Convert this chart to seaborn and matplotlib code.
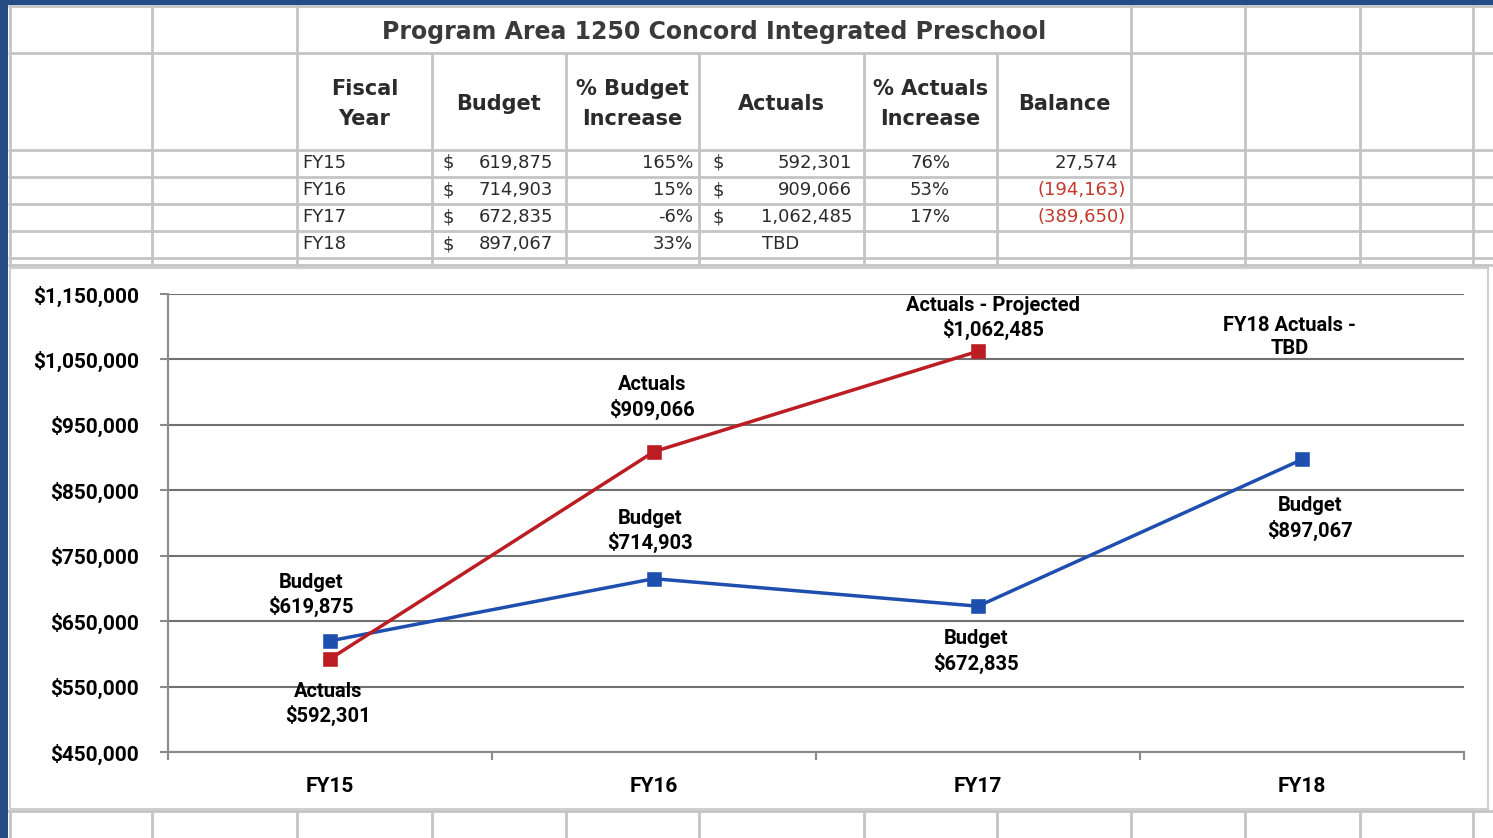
import matplotlib
matplotlib.use("Agg")
import matplotlib.pyplot as plt
import matplotlib.patches as mpatches
import numpy as np
import pandas as pd
import seaborn as sns

# ---------------- data ----------------
title = "Program Area 1250 Concord Integrated Preschool"
headers = ["Fiscal\nYear", "Budget", "% Budget\nIncrease", "Actuals", "% Actuals\nIncrease", "Balance"]
years = ["FY15", "FY16", "FY17", "FY18"]
budget = [619875, 714903, 672835, 897067]
budget_pct = ["165%", "15%", "-6%", "33%"]
actuals = [592301, 909066, 1062485, np.nan]
actuals_pct = ["76%", "53%", "17%", ""]
balance = [27574, -194163, -389650, np.nan]
budget_labels = ["Budget", "Budget", "Budget", "Budget"]
actual_labels = ["Actuals", "Actuals", "Actuals - Projected", None]
tbd_label = "FY18 Actuals -\nTBD"
y_ticks = [450000, 550000, 650000, 750000, 850000, 950000, 1050000, 1150000]

# ---------------- figure ----------------
sns.set_theme(style="white")
W, H = 1493, 838
fig = plt.figure(figsize=(W / 100, H / 100), dpi=100, facecolor="white")

bg = fig.add_axes([0, 0, 1, 1])
bg.set_xlim(0, W)
bg.set_ylim(H, 0)
bg.axis("off")

gcol = "#c4c4c4"
glw = 2.0
cols = [10, 152, 297, 432, 566, 699, 864, 997, 1131, 1245, 1360, 1473]
# spreadsheet rows
for y in [6, 53, 150, 177, 204, 231, 258, 265]:
    bg.plot([8, W], [y, y], color=gcol, lw=glw, solid_capstyle="butt")
# vertical lines, title row (merged title cell)
for x in cols:
    if x in (432, 566, 699, 864, 997):
        bg.plot([x, x], [53, 265], color=gcol, lw=glw)
    else:
        bg.plot([x, x], [5, 268], color=gcol, lw=glw)
# bottom row below chart
bg.plot([8, W], [811, 811], color=gcol, lw=glw)
for x in cols:
    bg.plot([x, x], [811, H], color=gcol, lw=glw)

# chart object frame
bg.add_patch(mpatches.Rectangle((10, 268), 1478, 541, facecolor="white",
                                edgecolor="#cfcfcf", lw=1.5, zorder=3))

# blue window frame
blue = "#264c85"
bg.add_patch(mpatches.Rectangle((0, 0), W, 5, facecolor=blue, edgecolor="none", zorder=5))
bg.add_patch(mpatches.Rectangle((0, 0), 8, H, facecolor=blue, edgecolor="none", zorder=5))

# ---------------- table text ----------------
tfont = "DejaVu Sans"
txtc = "#2b2b2b"
bg.text((297 + 1131) / 2, 32, title, ha="center", va="center", fontsize=17,
        fontweight="bold", family=tfont, color="#3a3a3a")
for i, htxt in enumerate(headers):
    cx = (cols[2 + i] + cols[3 + i]) / 2
    bg.text(cx, 104, htxt, ha="center", va="center", fontsize=15, fontweight="bold",
            family=tfont, color=txtc, linespacing=1.65)

row_y = [163, 190, 217, 244]
fs = 13
for i, yv in enumerate(row_y):
    bg.text(302, yv, years[i], ha="left", va="center", fontsize=fs, family=tfont, color=txtc)
    bg.text(442, yv, "$", ha="left", va="center", fontsize=fs, family=tfont, color=txtc)
    bg.text(553, yv, f"{budget[i]:,}", ha="right", va="center", fontsize=fs, family=tfont, color=txtc)
    bg.text(693, yv, budget_pct[i], ha="right", va="center", fontsize=fs, family=tfont, color=txtc)
    if np.isnan(actuals[i]):
        bg.text(781, yv, "TBD", ha="center", va="center", fontsize=fs, family=tfont, color=txtc)
    else:
        bg.text(712, yv, "$", ha="left", va="center", fontsize=fs, family=tfont, color=txtc)
        bg.text(852, yv, f"{int(actuals[i]):,}", ha="right", va="center", fontsize=fs,
                family=tfont, color=txtc)
    bg.text(930, yv, actuals_pct[i], ha="center", va="center", fontsize=fs, family=tfont, color=txtc)
    b = balance[i]
    if not np.isnan(b):
        if b < 0:
            bg.text(1126, yv, f"({int(-b):,})", ha="right", va="center", fontsize=fs,
                    family=tfont, color="#c0392b")
        else:
            bg.text(1118, yv, f"{int(b):,}", ha="right", va="center", fontsize=fs,
                    family=tfont, color=txtc)

# ---------------- chart ----------------
x0, x1, ytop, ybot = 168, 1464, 294, 752
ax = fig.add_axes([x0 / W, 1 - ybot / H, (x1 - x0) / W, (ybot - ytop) / H])
ax.set_zorder(10)
ax.patch.set_alpha(0)

df = pd.DataFrame({
    "year": years * 2,
    "value": budget + actuals,
    "series": ["Budget"] * 4 + ["Actuals"] * 4,
})
blue_line = "#1f4fae"
red_line = "#bb1d22"
sns.pointplot(data=df, x="year", y="value", hue="series", hue_order=["Budget", "Actuals"],
              order=years, palette={"Budget": blue_line, "Actuals": red_line},
              markers="s", linestyles="-", errorbar=None, legend=False, ax=ax,
              markersize=8, linewidth=2.5)

ax.set_xlim(-0.5, 3.5)
ax.set_ylim(450000, 1150000)
ax.set_yticks(y_ticks)
ax.set_yticklabels([f"${v:,}" for v in y_ticks])
ax.set_xlabel("")
ax.set_ylabel("")
gridc = "#707070"
ax.yaxis.grid(True, color=gridc, lw=1.5)
ax.xaxis.grid(False)
ax.set_axisbelow(True)
for s in ["top", "right"]:
    ax.spines[s].set_visible(False)
for s in ["left", "bottom"]:
    ax.spines[s].set_visible(True)
    ax.spines[s].set_color("#8a8a8a")
    ax.spines[s].set_linewidth(1.5)

cfont = "Roboto"
ax.tick_params(axis="y", which="major", length=6, width=1.5, color="#8a8a8a",
               direction="out", left=True, pad=15, labelsize=15)
ax.set_xticks([0, 1, 2, 3])
ax.set_xticklabels(years)
ax.set_xticks([-0.5, 0.5, 1.5, 2.5, 3.5], minor=True)
ax.tick_params(axis="x", which="major", length=0, pad=18, labelsize=15)
ax.tick_params(axis="x", which="minor", length=6, width=1.5, color="#8a8a8a",
               direction="out", bottom=True)
for lab in ax.get_xticklabels() + ax.get_yticklabels():
    lab.set_fontfamily(cfont)
    lab.set_fontweight("bold")
    lab.set_color("black")

lab_kw = dict(ha="center", va="center", fontsize=14.5, fontweight="bold", family=cfont,
              color="black", linespacing=1.25, textcoords="offset points", zorder=12)
budget_offsets = [(-13.5, 33), (-3, 34.5), (-1.4, -32.5), (5.8, -42.5)]
actual_offsets = [(-1.4, -32.5), (-1.4, 39), (10.8, 24), None]
for i in range(4):
    ax.annotate(f"{budget_labels[i]}\n${budget[i]:,}", xy=(i, budget[i]),
                xytext=budget_offsets[i], **lab_kw)
    if actual_labels[i] is not None:
        ax.annotate(f"{actual_labels[i]}\n${int(actuals[i]):,}", xy=(i, actuals[i]),
                    xytext=actual_offsets[i], **lab_kw)
ax.annotate(tbd_label, xy=(3, 1150000), xytext=(-9, -31), **lab_kw)

fig.savefig("out.png", dpi=100, facecolor="white")
